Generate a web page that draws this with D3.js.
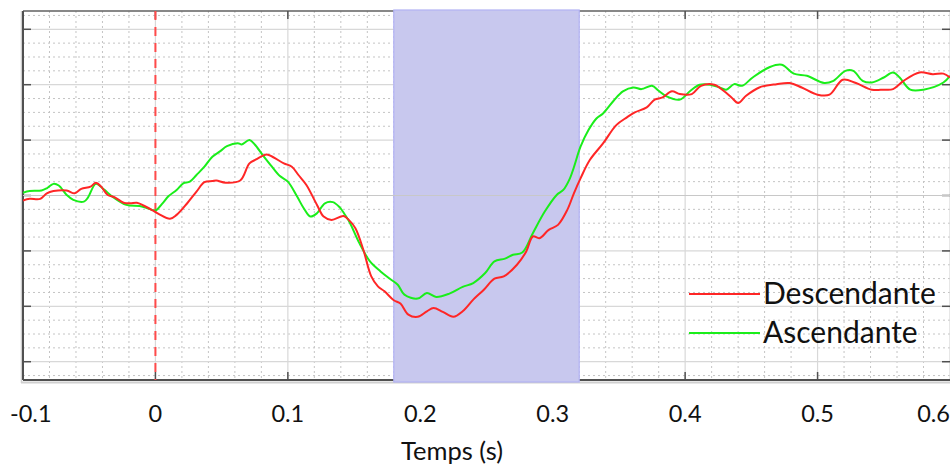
<!DOCTYPE html>
<html>
<head>
<meta charset="utf-8">
<script src="https://cdn.jsdelivr.net/npm/d3@7"></script>
<style>
  html, body { margin: 0; padding: 0; background: #fff; }
  svg { display: block; }
  text { font-family: Lato, "Open Sans", sans-serif; fill: #111; }
</style>
</head>
<body>
<svg id="chart" width="950" height="465"></svg>
<script>
// ---- data ----
const seriesNames = ["Descendante", "Ascendante"];
const seriesColors = ["#ff2626", "#1aee1a"];
const xTicks = [-0.1, 0, 0.1, 0.2, 0.3, 0.4, 0.5, 0.6];
const xTickLabels = ["-0.1", "0", "0.1", "0.2", "0.3", "0.4", "0.5", "0.6"];
const yMajorTicks = [-3, -2, -1, 0, 1, 2, 3];
const shadeRange = [0.18, 0.32];
const stimulusTime = 0;
const xLabel = "Temps (s)";

const descT = [-0.100,-0.095,-0.087,-0.082,-0.077,-0.067,-0.061,-0.056,-0.049,-0.045,-0.041,-0.036,-0.031,-0.024,-0.019,-0.014,-0.009,-0.002,0.003,0.011,0.016,0.024,0.031,0.037,0.043,0.046,0.053,0.064,0.071,0.076,0.084,0.089,0.097,0.103,0.108,0.114,0.122,0.127,0.133,0.142,0.146,0.151,0.157,0.163,0.168,0.173,0.180,0.185,0.191,0.198,0.205,0.210,0.217,0.225,0.232,0.240,0.248,0.256,0.263,0.273,0.280,0.285,0.290,0.297,0.304,0.311,0.316,0.321,0.328,0.338,0.348,0.356,0.362,0.371,0.377,0.383,0.390,0.396,0.405,0.412,0.422,0.429,0.435,0.440,0.446,0.456,0.469,0.479,0.488,0.500,0.509,0.519,0.529,0.541,0.550,0.557,0.565,0.577,0.587,0.595,0.600];
const descV = [-0.09,-0.06,-0.06,0.04,0.08,0.09,0.04,0.12,0.16,0.23,0.16,0.01,-0.03,-0.13,-0.14,-0.13,-0.18,-0.27,-0.34,-0.42,-0.35,-0.14,0.07,0.24,0.26,0.27,0.23,0.27,0.58,0.65,0.74,0.69,0.58,0.52,0.37,0.19,-0.17,-0.38,-0.44,-0.37,-0.44,-0.59,-0.98,-1.46,-1.64,-1.73,-1.89,-1.95,-2.15,-2.19,-2.09,-2.03,-2.10,-2.19,-2.09,-1.88,-1.70,-1.50,-1.46,-1.25,-1.01,-0.74,-0.77,-0.62,-0.53,-0.26,0.04,0.31,0.64,0.94,1.27,1.41,1.50,1.59,1.73,1.77,1.88,1.83,1.83,1.98,2.00,1.89,1.77,1.67,1.80,1.95,2.01,2.03,1.95,1.82,1.82,2.09,2.03,1.91,1.91,1.92,2.07,2.22,2.19,2.20,2.13];

const ascT = [-0.100,-0.095,-0.086,-0.082,-0.077,-0.073,-0.067,-0.062,-0.054,-0.051,-0.045,-0.039,-0.032,-0.022,-0.012,-0.007,0.000,0.005,0.010,0.016,0.021,0.026,0.031,0.037,0.043,0.049,0.054,0.063,0.065,0.071,0.075,0.081,0.087,0.094,0.100,0.107,0.112,0.117,0.122,0.128,0.134,0.139,0.144,0.147,0.154,0.162,0.170,0.178,0.183,0.188,0.198,0.205,0.212,0.222,0.232,0.240,0.249,0.256,0.264,0.270,0.277,0.285,0.294,0.303,0.308,0.313,0.316,0.321,0.327,0.333,0.338,0.346,0.353,0.361,0.367,0.375,0.380,0.386,0.396,0.404,0.411,0.419,0.426,0.431,0.437,0.443,0.451,0.464,0.473,0.482,0.492,0.505,0.512,0.521,0.527,0.534,0.541,0.550,0.557,0.562,0.570,0.580,0.595,0.600];
const ascV = [0.05,0.08,0.09,0.13,0.21,0.18,0.01,-0.08,-0.11,-0.04,0.21,0.11,-0.03,-0.17,-0.19,-0.22,-0.27,-0.15,-0.01,0.10,0.22,0.25,0.37,0.52,0.70,0.80,0.89,0.94,0.92,1.00,0.92,0.73,0.55,0.35,0.25,-0.02,-0.23,-0.38,-0.32,-0.14,-0.12,-0.21,-0.38,-0.50,-0.86,-1.19,-1.37,-1.52,-1.61,-1.79,-1.86,-1.76,-1.83,-1.77,-1.65,-1.58,-1.40,-1.19,-1.14,-1.07,-1.03,-0.68,-0.29,0.01,0.10,0.31,0.51,0.88,1.18,1.39,1.48,1.71,1.88,1.95,1.92,1.98,1.89,1.79,1.73,1.89,2.00,2.00,1.95,1.91,2.01,1.98,2.13,2.32,2.36,2.20,2.16,2.03,2.07,2.25,2.25,2.07,2.04,2.13,2.22,2.13,1.91,1.91,2.04,2.16];

// ---- layout ----
const W = 950, H = 465;
const plot = { left: 23, right: 950, top: 11, bottom: 380 };
const svg = d3.select("#chart");

const x = d3.scaleLinear().domain([-0.1, 0.6]).range([plot.left, plot.right]);
const y = d3.scaleLinear().domain([-3.33, 3.33]).range([plot.bottom, plot.top]);

svg.append("defs").append("clipPath").attr("id", "clip")
  .append("rect").attr("x", plot.left).attr("y", plot.top)
  .attr("width", plot.right - plot.left).attr("height", plot.bottom - plot.top);

// minor grid
const xMinor = d3.range(-0.1, 0.6001, 0.02).map(v => +v.toFixed(3));
const yMinor = d3.range(-3.25, 3.2501, 0.25).map(v => +v.toFixed(3)).filter(v => Math.abs(v % 1) > 1e-6);
const grid = svg.append("g").attr("clip-path", "url(#clip)");
grid.selectAll(".vminor").data(xMinor.filter(v => Math.abs(Math.round(v * 10) - v * 10) > 1e-6)).join("line")
  .attr("x1", d => x(d)).attr("x2", d => x(d)).attr("y1", plot.top).attr("y2", plot.bottom)
  .attr("stroke", "#c4c4c4").attr("stroke-width", 1).attr("stroke-dasharray", "2,3");
grid.selectAll(".hminor").data(yMinor).join("line")
  .attr("x1", plot.left).attr("x2", plot.right).attr("y1", d => y(d)).attr("y2", d => y(d))
  .attr("stroke", "#c4c4c4").attr("stroke-width", 1).attr("stroke-dasharray", "2,3");
// major grid
grid.selectAll(".vmajor").data(xTicks).join("line")
  .attr("x1", d => x(d)).attr("x2", d => x(d)).attr("y1", plot.top).attr("y2", plot.bottom)
  .attr("stroke", "#d8d8d8").attr("stroke-width", 1.2);
grid.selectAll(".hmajor").data(yMajorTicks).join("line")
  .attr("x1", plot.left).attr("x2", plot.right).attr("y1", d => y(d)).attr("y2", d => y(d))
  .attr("stroke", "#d8d8d8").attr("stroke-width", 1.2);

// axes frame (shadow + dark lines)
const frame = svg.append("g");
frame.append("line").attr("x1", plot.left - 2).attr("x2", plot.right).attr("y1", plot.bottom + 2.5).attr("y2", plot.bottom + 2.5)
  .attr("stroke", "#d0d0d0").attr("stroke-width", 2);
frame.append("line").attr("x1", plot.left - 1.5).attr("x2", plot.left - 1.5).attr("y1", plot.top).attr("y2", plot.bottom + 3)
  .attr("stroke", "#d0d0d0").attr("stroke-width", 1.5);
frame.append("line").attr("x1", plot.left).attr("x2", plot.right).attr("y1", plot.bottom).attr("y2", plot.bottom)
  .attr("stroke", "#505050").attr("stroke-width", 2);
frame.append("line").attr("x1", plot.left).attr("x2", plot.right).attr("y1", plot.top).attr("y2", plot.top)
  .attr("stroke", "#606060").attr("stroke-width", 1.6);
frame.append("line").attr("x1", plot.left).attr("x2", plot.left).attr("y1", plot.top).attr("y2", plot.bottom)
  .attr("stroke", "#505050").attr("stroke-width", 2);

// inward ticks
const tickLen = 8;
frame.selectAll(".tb").data(xTicks.slice(1, -1)).join("line")
  .attr("x1", d => x(d)).attr("x2", d => x(d)).attr("y1", plot.bottom).attr("y2", plot.bottom - tickLen)
  .attr("stroke", "#505050").attr("stroke-width", 1.5);
frame.selectAll(".tt").data(xTicks.slice(1, -1)).join("line")
  .attr("x1", d => x(d)).attr("x2", d => x(d)).attr("y1", plot.top).attr("y2", plot.top + tickLen)
  .attr("stroke", "#505050").attr("stroke-width", 1.5);
frame.selectAll(".tl").data(yMajorTicks).join("line")
  .attr("x1", plot.left).attr("x2", plot.left + tickLen).attr("y1", d => y(d)).attr("y2", d => y(d))
  .attr("stroke", "#505050").attr("stroke-width", 1.5);
frame.selectAll(".tr").data(yMajorTicks).join("line")
  .attr("x1", plot.right).attr("x2", plot.right - tickLen).attr("y1", d => y(d)).attr("y2", d => y(d))
  .attr("stroke", "#505050").attr("stroke-width", 1.5);

// shaded window
svg.append("rect")
  .attr("x", x(shadeRange[0])).attr("y", plot.top - 1)
  .attr("width", x(shadeRange[1]) - x(shadeRange[0])).attr("height", plot.bottom - plot.top + 3)
  .attr("fill", "#c8c8ee").attr("stroke", "#b2b2f4").attr("stroke-width", 1.2);

// zero line over the shading
svg.append("line").attr("x1", plot.left).attr("x2", plot.right).attr("y1", y(0)).attr("y2", y(0))
  .attr("stroke", "#c8c8c8").attr("stroke-width", 1);

// stimulus dashed line
svg.append("line").attr("x1", x(stimulusTime)).attr("x2", x(stimulusTime))
  .attr("y1", plot.top).attr("y2", plot.bottom)
  .attr("stroke", "#ff4a4a").attr("stroke-width", 2).attr("stroke-dasharray", "9,7");

// curves
const line = d3.line().x(d => x(d[0])).y(d => y(d[1])).curve(d3.curveCatmullRom.alpha(0.5));
const series = [d3.zip(descT, descV), d3.zip(ascT, ascV)];
const curves = svg.append("g").attr("clip-path", "url(#clip)");
curves.selectAll("path").data([1, 0]).join("path")
  .attr("d", i => line(series[i]))
  .attr("fill", "none").attr("stroke", i => seriesColors[i]).attr("stroke-width", 2)
  .attr("stroke-linejoin", "round");

// x tick labels
const labels = svg.append("g");
xTicks.forEach((t, i) => {
  let anchor = "middle", px = x(t);
  if (i === 0) { anchor = "start"; px = 10; }
  if (i === xTicks.length - 1) { anchor = "end"; px = 950; }
  labels.append("text").attr("x", px).attr("y", 422).attr("text-anchor", anchor)
    .attr("font-size", 23.5).text(xTickLabels[i]);
});
svg.append("text").attr("x", 452).attr("y", 460).attr("text-anchor", "middle")
  .attr("font-size", 25.5).text(xLabel);

// legend
const legend = svg.append("g");
seriesNames.forEach((name, i) => {
  const ly = 294 + i * 39;
  legend.append("line").attr("x1", 689).attr("x2", 760).attr("y1", ly).attr("y2", ly)
    .attr("stroke", seriesColors[i]).attr("stroke-width", 2);
  legend.append("text").attr("x", 763).attr("y", ly + 10).attr("font-size", 30).text(name);
});
</script>
</body>
</html>
